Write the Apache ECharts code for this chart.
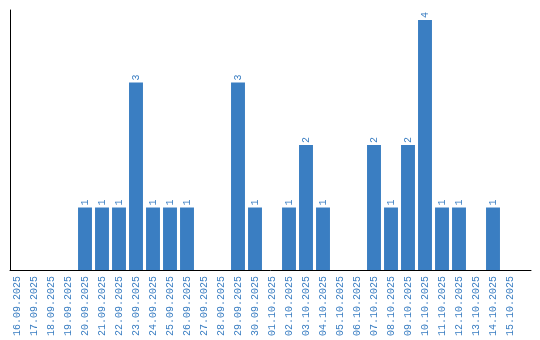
<!DOCTYPE html>
<html><head><meta charset="utf-8">
<script src="https://cdn.jsdelivr.net/npm/echarts@6/dist/echarts.min.js"></script>
<style>html,body{margin:0;padding:0;background:#fff}#c{width:540px;height:340px}</style>
</head><body><div id="c"></div>
<script>
const categories = ["16.09.2025","17.09.2025","18.09.2025","19.09.2025","20.09.2025","21.09.2025","22.09.2025","23.09.2025","24.09.2025","25.09.2025","26.09.2025","27.09.2025","28.09.2025","29.09.2025","30.09.2025","01.10.2025","02.10.2025","03.10.2025","04.10.2025","05.10.2025","06.10.2025","07.10.2025","08.10.2025","09.10.2025","10.10.2025","11.10.2025","12.10.2025","13.10.2025","14.10.2025","15.10.2025"];
const values = [0,0,0,0,1,1,1,3,1,1,1,0,0,3,1,0,1,2,1,0,0,2,1,2,4,1,1,0,1,0];
const color = '#3a7ec2';
const chart = echarts.init(document.getElementById('c'));
chart.setOption({
  animation:false,
  grid:[
    {left:8.5,right:21.5,top:10,bottom:70,containLabel:false},
    {left:10,right:9,top:10,bottom:70,containLabel:false}
  ],
  xAxis:[
    {type:'category',data:categories,gridIndex:0,
      axisLine:{show:false},
      axisTick:{show:false},
      axisLabel:{rotate:90,interval:0,color:color,fontFamily:'Liberation Mono',fontSize:10,margin:6}},
    {type:'value',gridIndex:1,min:0,max:1,axisLine:{show:true,lineStyle:{color:'#000',width:1}},
      axisTick:{show:false},axisLabel:{show:false},splitLine:{show:false}}
  ],
  yAxis:[
    {type:'value',gridIndex:0,min:0,max:4.16,splitLine:{show:false},axisLabel:{show:false},axisTick:{show:false},
      axisLine:{show:false}},
    {type:'value',gridIndex:1,min:0,max:1,splitLine:{show:false},axisLabel:{show:false},axisTick:{show:false},
      axisLine:{show:true,lineStyle:{color:'#000',width:1}}}
  ],
  series:[{type:'bar',xAxisIndex:0,yAxisIndex:0,data:values.map(v=>v===0?null:v),barCategoryGap:'18%',
    itemStyle:{color:color},
    label:{show:true,position:'top',rotate:90,align:'left',verticalAlign:'middle',distance:2,color:color,fontFamily:'Liberation Mono',fontSize:10}}]
});
</script></body></html>
